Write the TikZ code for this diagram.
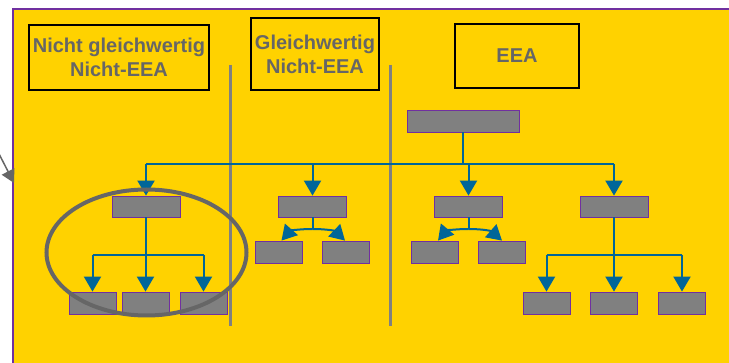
\documentclass[tikz,border=0pt]{standalone}
\usepackage{fontspec}
\setmainfont{Liberation Sans}
\usetikzlibrary{arrows.meta}
\definecolor{bgyellow}{HTML}{FFD200}
\definecolor{framepurple}{HTML}{7030A0}
\definecolor{flowblue}{HTML}{006699}
\definecolor{unitgray}{HTML}{808080}
\definecolor{textgray}{HTML}{666666}

\begin{document}
\begin{tikzpicture}[x=1pt,y=-1pt,
  title/.style={draw=black,line width=2pt,text=textgray,align=center,inner sep=0pt,
    font=\fontsize{20}{24}\selectfont\bfseries},
  unit/.style={fill=unitgray,draw=framepurple,line width=0.8pt,inner sep=0pt},
  wide/.style={unit,minimum width=68pt,minimum height=21pt},
  small/.style={unit,minimum width=47pt,minimum height=22pt},
  link/.style={draw=flowblue,line width=2pt},
  flow/.style={link,-{Triangle[length=15pt,width=17pt]}},
  divider/.style={draw=unitgray,line width=3pt}]
  \clip (0,0) rectangle (729,363);

  % background frame
  \fill [bgyellow] (13,9) rectangle (740,375);
  \draw [framepurple,line width=2pt] (740,9) -- (13,9) -- (13,375);

  % pointer from the left
  \coordinate (pointer) at (-3,150);
  \coordinate (edge) at (14,183);
  \draw [textgray,line width=1.5pt,-{Triangle[length=13pt,width=14pt]}] (pointer) -- (edge);

  % column titles
  \node [title,minimum width=180pt,minimum height=65pt] (t1) at (119,57.5) {Nicht gleichwertig\\Nicht-EEA};
  \node [title,minimum width=128pt,minimum height=72pt] (t2) at (315,54)   {Gleichwertig\\Nicht-EEA};
  \node [title,minimum width=124pt,minimum height=64pt] (t3) at (517,56)   {EEA};

  % column dividers
  \draw [divider] (230,65) -- (230,326);
  \draw [divider] (390,65) -- (390,326);

  % top level
  \node [unit,minimum width=112pt,minimum height=22pt] (top) at (463,121) {};

  % second level
  \node [wide] (a2) at (146,206.5)   {};
  \node [wide] (b2) at (312.5,206.5) {};
  \node [wide] (c2) at (468.5,206.5) {};
  \node [wide] (d2) at (614,206.5)   {};

  % third level
  \node [small] (a31) at (92.5,303)  {};
  \node [small] (a32) at (145.5,303) {};
  \node [small] (a33) at (203.5,303) {};
  \node [small] (b31) at (278.5,252) {};
  \node [small] (b32) at (346,252)   {};
  \node [small] (c31) at (435,252)   {};
  \node [small] (c32) at (502,252)   {};
  \node [small] (d31) at (546.5,303) {};
  \node [small] (d32) at (614,303)   {};
  \node [small] (d33) at (682,303)   {};

  % top to second level
  \coordinate (bus) at (463,164);
  \draw [link] (top.south) -- (bus);
  \draw [link] (bus -| a2.north) -- (bus -| d2.north);
  \foreach \n in {a2,b2,c2,d2}
    \draw [flow] (bus -| \n.north) -- (\n.north);

  % left group
  \coordinate (busA) at (146,255);
  \draw [link] (a2.south) -- (busA);
  \draw [link] (busA -| a31.north) -- (busA -| a33.north);
  \foreach \n in {a31,a32,a33}
    \draw [flow] (busA -| \n.north) -- (\n.north);

  % right group
  \coordinate (busD) at (614,255);
  \draw [link] (d2.south) -- (busD);
  \draw [link] (busD -| d31.north) -- (busD -| d33.north);
  \foreach \n in {d31,d32,d33}
    \draw [flow] (busD -| \n.north) -- (\n.north);

  % split groups
  \coordinate (jB) at (312.5,229);
  \draw [link] (b2.south) -- (jB);
  \draw [flow] (jB) .. controls (298,229) and (290,231) .. ([xshift=3pt]b31.north);
  \draw [flow] (jB) .. controls (327,229) and (335,231) .. ([xshift=-1pt]b32.north);
  \coordinate (jC) at (468.5,229);
  \draw [link] (c2.south) -- (jC);
  \draw [flow] (jC) .. controls (454,229) and (446,231) .. ([xshift=3pt]c31.north);
  \draw [flow] (jC) .. controls (483,229) and (491,231) .. (c32.north);

  % highlight
  \draw [textgray,line width=4pt] (146.5,252.5) ellipse [x radius=100pt,y radius=63pt];
\end{tikzpicture}
\end{document}
